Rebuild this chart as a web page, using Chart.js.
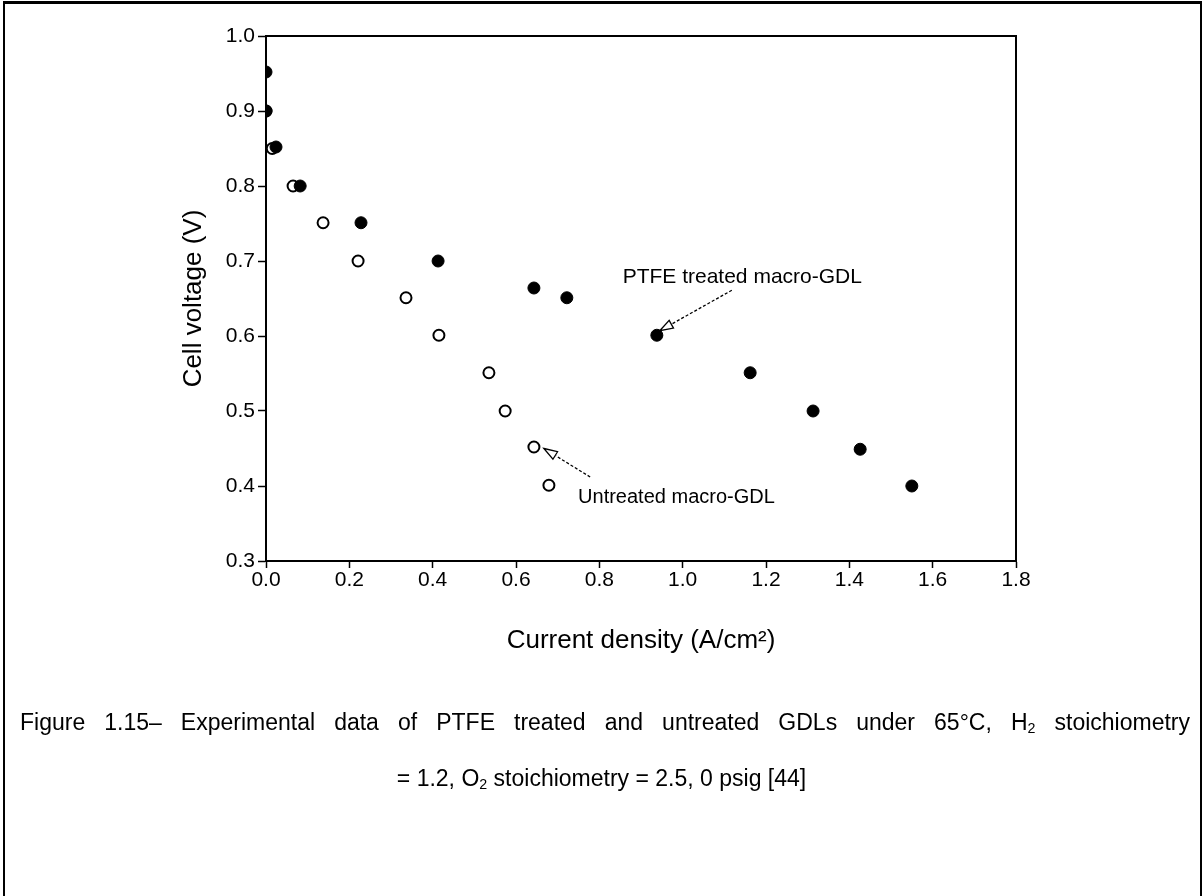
<!DOCTYPE html>
<html>
<head>
<meta charset="utf-8">
<script src="https://cdn.jsdelivr.net/npm/chart.js@4.4.1/dist/chart.umd.min.js"></script>
<style>
  html, body { margin: 0; padding: 0; background: #fff; }
  #page { position: relative; width: 1203px; height: 896px; overflow: hidden; background: #fff; }
  #frame { position: absolute; left: 3px; top: 1px; width: 1195px; height: 910px;
           border-top: 3px solid #000; border-left: 2px solid #000; border-right: 2px solid #000; }
  #plot { position: absolute; left: 0; top: 0; width: 1203px; height: 896px; }
  .cap { position: absolute; font-family: "Liberation Sans", Arial, sans-serif; font-size: 23px;
         line-height: 28px; color: #000; white-space: nowrap; }
  .cap sub { font-size: 0.62em; vertical-align: -0.2em; line-height: 0; }
  #cap1 { left: 20px; width: 1170px; top: 708px; white-space: normal;
          text-align: justify; text-align-last: justify; }
  #cap2 { left: 0; width: 1203px; top: 764px; text-align: center; }
</style>
</head>
<body>
<div id="page">
  <div id="frame"></div>
  <div id="plot"><canvas id="c" width="1203" height="896"></canvas></div>
  <div class="cap" id="cap1">Figure 1.15– Experimental data of PTFE treated and untreated GDLs under 65°C, H<sub>2</sub> stoichiometry</div>
  <div class="cap" id="cap2">= 1.2, O<sub>2</sub> stoichiometry = 2.5, 0 psig [44]</div>
</div>
<script>
// Polarization data: current density (A/cm2) vs cell voltage (V)
const ptfeCurrent   = [0.0, 0.0, 0.024, 0.082, 0.228, 0.413, 0.643, 0.722, 0.938, 1.162, 1.313, 1.426, 1.550];
const ptfeVoltage   = [0.952, 0.90, 0.852, 0.80, 0.751, 0.70, 0.664, 0.651, 0.601, 0.551, 0.50, 0.449, 0.40];
const plainCurrent  = [0.0, 0.015, 0.065, 0.137, 0.221, 0.336, 0.415, 0.535, 0.574, 0.643, 0.679];
const plainVoltage  = [0.90, 0.85, 0.80, 0.751, 0.70, 0.651, 0.601, 0.551, 0.50, 0.452, 0.401];

// Axis ranges and tick spacing
const xTicks = { min: 0.0, max: 1.8, step: 0.2 };
const yTicks = { min: 0.3, max: 1.0, step: 0.1 };

const toPoints = (xs, ys) => xs.map((x, i) => ({ x: x, y: ys[i] }));

// Callout labels with arrows, placed in data units
const callouts = [
  { text: 'PTFE treated macro-GDL', size: 21, tx: 0.856, ty: 0.679, from: [1.118, 0.661], to: [0.945, 0.607] },
  { text: 'Untreated macro-GDL',    size: 20, tx: 0.749, ty: 0.385, from: [0.778, 0.412], to: [0.667, 0.450] }
];

const FONT = '"Liberation Sans", Arial, sans-serif';

const framePlugin = {
  id: 'frame',
  afterDatasetsDraw(chart) {
    const { ctx, chartArea: a } = chart;
    ctx.save();
    ctx.strokeStyle = '#000';
    ctx.lineWidth = 2;
    ctx.strokeRect(a.left, a.top, a.right - a.left, a.bottom - a.top);
    ctx.restore();
  }
};

const calloutPlugin = {
  id: 'callouts',
  afterDatasetsDraw(chart) {
    const { ctx, scales: { x, y } } = chart;
    ctx.save();
    ctx.fillStyle = '#000';
    ctx.strokeStyle = '#000';
    ctx.textAlign = 'left';
    ctx.textBaseline = 'middle';
    callouts.forEach(c => {
      ctx.font = c.size + 'px ' + FONT;
      ctx.fillText(c.text, x.getPixelForValue(c.tx), y.getPixelForValue(c.ty));
      const x0 = x.getPixelForValue(c.from[0]), y0 = y.getPixelForValue(c.from[1]);
      const x1 = x.getPixelForValue(c.to[0]),   y1 = y.getPixelForValue(c.to[1]);
      const ang = Math.atan2(y1 - y0, x1 - x0);
      const head = 14, spread = 0.32;
      const hx = x1 - head * Math.cos(ang), hy = y1 - head * Math.sin(ang);
      ctx.lineWidth = 1.3;
      ctx.setLineDash([3, 2]);
      ctx.beginPath();
      ctx.moveTo(x0, y0);
      ctx.lineTo(hx, hy);
      ctx.stroke();
      ctx.setLineDash([]);
      ctx.beginPath();
      ctx.moveTo(x1, y1);
      ctx.lineTo(x1 - head * Math.cos(ang - spread), y1 - head * Math.sin(ang - spread));
      ctx.lineTo(x1 - head * Math.cos(ang + spread), y1 - head * Math.sin(ang + spread));
      ctx.closePath();
      ctx.stroke();
    });
    ctx.restore();
  }
};

new Chart(document.getElementById('c'), {
  type: 'scatter',
  data: {
    datasets: [
      {
        label: 'PTFE treated macro-GDL',
        data: toPoints(ptfeCurrent, ptfeVoltage),
        pointStyle: 'circle',
        pointRadius: 6,
        pointBackgroundColor: '#000',
        pointBorderColor: '#000',
        pointBorderWidth: 1,
        showLine: false
      },
      {
        label: 'Untreated macro-GDL',
        data: toPoints(plainCurrent, plainVoltage),
        pointStyle: 'circle',
        pointRadius: 5.5,
        pointBackgroundColor: '#fff',
        pointBorderColor: '#000',
        pointBorderWidth: 2,
        showLine: false
      }
    ]
  },
  options: {
    responsive: false,
    animation: false,
    events: [],
    layout: { padding: { left: 176, top: 36, right: 187, bottom: 240 } },
    plugins: { legend: { display: false }, tooltip: { enabled: false } },
    scales: {
      x: {
        type: 'linear',
        min: xTicks.min, max: xTicks.max,
        afterFit: s => { s.height = 95; },
        ticks: {
          stepSize: xTicks.step, color: '#000', padding: 0,
          font: { family: FONT, size: 21 },
          callback: v => Number(v).toFixed(1)
        },
        grid: { display: true, drawOnChartArea: false, drawTicks: true, tickLength: 7, tickColor: '#000', tickWidth: 1.5 },
        border: { display: true, color: '#000', width: 2 },
        title: { display: true, text: 'Current density (A/cm²)', color: '#000',
                 font: { family: FONT, size: 26 }, padding: { top: 0, bottom: 0 } }
      },
      y: {
        type: 'linear',
        min: yTicks.min, max: yTicks.max,
        afterFit: s => { s.width = 90; },
        ticks: {
          stepSize: yTicks.step, color: '#000', padding: 3,
          font: { family: FONT, size: 21 },
          callback: v => Number(v).toFixed(1)
        },
        grid: { display: true, drawOnChartArea: false, drawTicks: true, tickLength: 8, tickColor: '#000', tickWidth: 1.5 },
        border: { display: true, color: '#000', width: 2 },
        title: { display: true, text: 'Cell voltage (V)', color: '#000',
                 font: { family: FONT, size: 26 }, padding: { top: 2, bottom: 0 } }
      }
    }
  },
  plugins: [framePlugin, calloutPlugin]
});
</script>
</body>
</html>
